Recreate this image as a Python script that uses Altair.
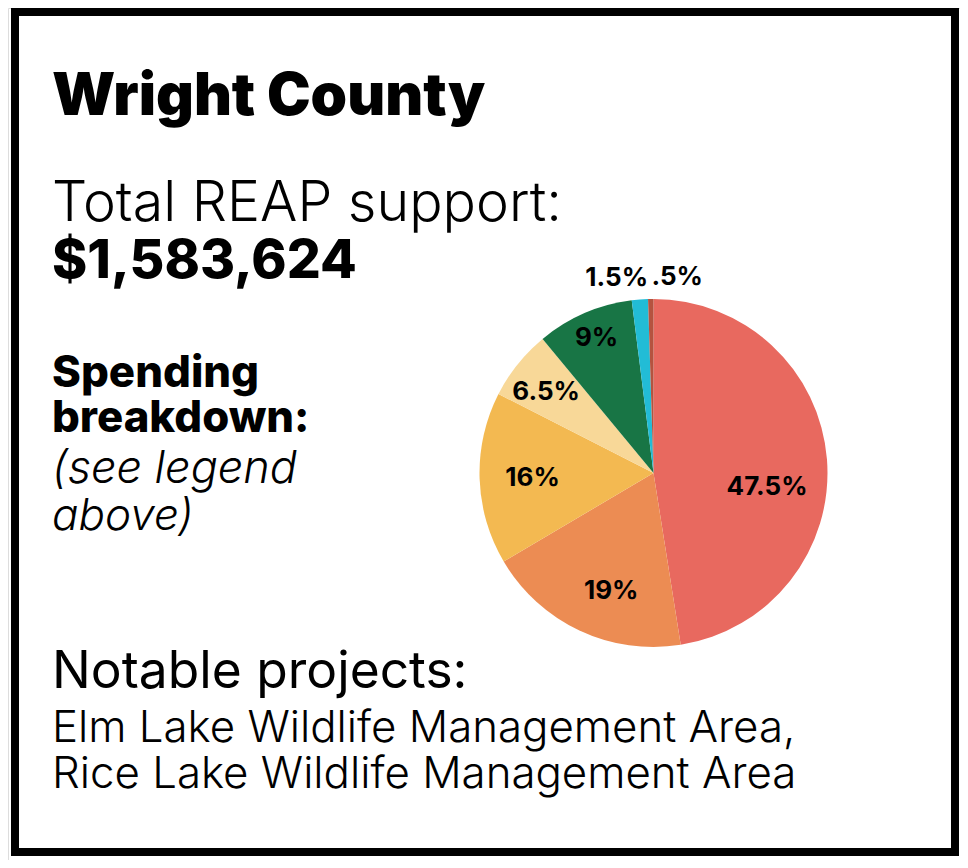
import altair as alt
import pandas as pd

# Data
categories = ["A", "B", "C", "D", "E", "F", "G"]
shares = [47.5, 19, 16, 6.5, 9, 1.5, 0.5]
labels = ["47.5%", "19%", "16%", "6.5%", "9%", "1.5%", ".5%"]
colors = ["#E8695F", "#EC8C53", "#F3B951", "#F8D898", "#187545", "#22BCD6", "#B5533F"]

df = pd.DataFrame({
    "cat": categories,
    "share": shares,
    "label": labels,
    "idx": list(range(len(categories))),
})

FONT = "Inter"
CX, CY, R = 645.5, 465, 174

theta = alt.Theta("share:Q", stack=True)
order = alt.Order("idx:Q")

border = alt.Chart(pd.DataFrame({"k": [0]})).mark_rect(
    fill=None, stroke="black", strokeWidth=8
).encode(x=alt.value(7), x2=alt.value(947), y=alt.value(4), y2=alt.value(844))

pie = alt.Chart(df).mark_arc(radius=R, x=CX, y=CY).encode(
    theta=theta,
    order=order,
    color=alt.Color("cat:N", scale=alt.Scale(domain=categories, range=colors), legend=None),
)


def slice_label(i, radius, dx=0, dy=0, align="center"):
    return alt.Chart(df).transform_calculate(
        t=f"datum.idx == {i} ? datum.label : ''"
    ).mark_text(
        radius=radius, dx=dx, dy=dy, align=align, x=CX, y=CY,
        font=FONT, fontWeight=700, fontSize=26, color="black"
    ).encode(theta=theta, order=order, text="t:N")


label_layers = [
    slice_label(0, 125, dx=-11, dy=24),
    slice_label(1, 125, dx=11, dy=5),
    slice_label(2, 121, dy=1),
    slice_label(3, 135, dx=-2, dy=3),
    slice_label(4, 146, dx=1, dy=-1),
    slice_label(5, 196, dx=10, align="right"),
    slice_label(6, 196, dx=1, align="left"),
]


def txt(s, y, size, weight=400, style="normal"):
    return alt.Chart(pd.DataFrame({"s": [s]})).mark_text(
        align="left", baseline="alphabetic", font=FONT, fontSize=size,
        fontWeight=weight, fontStyle=style, color="black"
    ).encode(x=alt.value(44), y=alt.value(y), text="s:N")


texts = [
    txt("Wright County", 107, 58.5, 900),
    txt("Total REAP support:", 213, 55.5, 300),
    txt("$1,583,624", 270, 53.5, 800),
    txt("Spending", 379, 43.8, 800),
    txt("breakdown:", 424, 43.7, 800),
    txt("(see legend", 475, 45, 300, "italic"),
    txt("above)", 522, 44, 300, "italic"),
    txt("Notable projects:", 680, 51.5, 400),
    txt("Elm Lake Wildlife Management Area,", 734, 43.8, 300),
    txt("Rice Lake Wildlife Management Area", 780, 43.8, 300),
]

chart = alt.layer(border, pie, *label_layers, *texts).properties(
    width=952, height=852, padding=0,
    autosize=alt.AutoSizeParams(type="fit", contains="padding"),
).configure_view(stroke=None).configure(background="white")

chart.save("out.html", embed_options={"renderer": "svg", "actions": False})
